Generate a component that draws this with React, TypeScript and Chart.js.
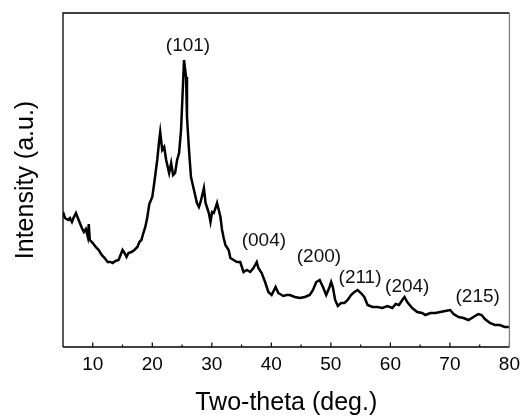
import { useEffect, useRef } from "react";
import { Chart, registerables } from "chart.js";

Chart.register(...registerables);

// Two-theta (deg.) positions
const twoTheta = [
  5.0, 5.33, 5.83, 6.17, 6.5, 6.83, 7.17, 7.5, 7.83, 8.17, 8.5, 8.83, 9.17, 9.33, 9.5,
  10.0, 10.5, 11.0, 11.5, 12.0, 12.5, 13.0, 13.33, 13.83, 14.33, 14.67, 15.0, 15.33,
  15.67, 16.0, 16.5, 17.0, 17.5, 17.83, 18.17, 18.5, 18.83, 19.17, 19.5, 20.0, 20.33,
  20.83, 21.17, 21.33, 21.67, 22.0, 22.33, 22.83, 23.17, 23.5, 23.83, 24.17, 24.5,
  24.83, 25.17, 25.33, 25.67, 25.83, 26.17, 26.5, 27.0, 27.5,
  27.83, 28.12, 28.67, 28.95, 29.17, 29.5, 29.78, 30.05, 30.33, 30.62, 30.88, 31.17,
  31.45, 31.72, 32.0, 32.28, 32.83, 33.12, 33.67, 34.22, 34.78, 35.05, 35.33, 35.88,
  36.45, 37.0, 37.55, 37.83, 38.38, 38.95, 39.5, 40.05, 40.72, 41.17, 42.0, 42.55,
  43.12, 43.95, 44.78, 45.62, 46.45, 47.0, 47.55, 48.12, 48.67, 49.22, 49.78, 50.05,
  50.33, 50.72, 51.17, 51.72, 52.28, 52.83, 53.38, 53.95, 54.5, 55.05, 55.62, 56.17,
  57.0, 57.83, 58.67, 59.5, 60.33, 60.88, 61.45, 62.0, 62.38, 62.83, 63.67, 64.5,
  65.33, 65.88, 66.72, 67.55, 68.38, 69.22, 70.05, 70.62, 71.45, 72.28, 73.12, 73.95,
  74.78, 75.33, 75.88, 76.72, 77.55, 78.38, 79.22, 80.0,
];

// Intensity (a.u.)
const intensity = [
  135, 129, 127, 129, 125, 130, 134, 129, 124, 119, 115, 118, 110, 123, 107,
  104, 100, 97, 92, 89, 85, 85, 84, 86, 87, 92, 97, 94,
  90, 94, 95, 97, 100, 105, 107, 114, 120, 130, 143, 150, 164,
  187, 207, 215, 197, 200, 187, 174, 184, 172, 174, 187, 194,
  217, 264, 287, 270, 230, 197, 170, 157, 144,
  140, 145, 159, 144, 140, 134, 125, 135, 134, 139, 144, 137,
  130, 117, 109, 102, 97, 89, 87, 85, 85, 80, 75, 77,
  75, 79, 85, 79, 74, 65, 55, 52, 60, 54, 51, 52,
  52, 50, 49, 50, 52, 57, 65, 67, 60, 52, 60, 65,
  60, 47, 41, 44, 44, 47, 52, 55, 57, 54, 50, 42,
  40, 40, 39, 41, 39, 43, 42, 47, 50, 45, 39, 35,
  34, 32, 34, 34, 35, 36, 37, 33, 30, 29, 27, 30,
  33, 32, 28, 24, 22, 22, 20, 20,
];

const majorTicks = [10, 20, 30, 40, 50, 60, 70, 80];
const minorTicks = [15, 25, 35, 45, 55, 65, 75];

const peakLabels = ["(101)", "(004)", "(200)", "(211)", "(204)", "(215)"];
const peakLabelX = [26.0, 38.75, 48.0, 54.9, 62.83, 74.67];
const peakLabelY = [301, 106, 90, 69, 60, 50];

const FONT = '"Liberation Sans", Arial, sans-serif';

const framePlugin = {
  id: "framePlugin",
  afterDraw(chart: any) {
    const { ctx, chartArea, scales } = chart;
    const { left, right, top, bottom } = chartArea;
    const x = scales.x;
    const y = scales.y;
    ctx.save();
    ctx.strokeStyle = "#000";
    ctx.lineWidth = 1.2;
    majorTicks.forEach((v) => {
      const px = x.getPixelForValue(v);
      ctx.beginPath();
      ctx.moveTo(px, bottom);
      ctx.lineTo(px, bottom - 4.5);
      ctx.stroke();
    });
    minorTicks.forEach((v) => {
      const px = x.getPixelForValue(v);
      ctx.beginPath();
      ctx.moveTo(px, bottom);
      ctx.lineTo(px, bottom - 2.5);
      ctx.stroke();
    });
    // frame
    ctx.lineWidth = 1.3;
    ctx.strokeStyle = "#000";
    ctx.beginPath();
    ctx.moveTo(left, bottom);
    ctx.lineTo(left, top);
    ctx.lineTo(right, top);
    ctx.stroke();
    ctx.lineWidth = 1.5;
    ctx.beginPath();
    ctx.moveTo(left, bottom);
    ctx.lineTo(right, bottom);
    ctx.stroke();
    ctx.strokeStyle = "#808080";
    ctx.lineWidth = 1.3;
    ctx.beginPath();
    ctx.moveTo(right, top);
    ctx.lineTo(right, bottom);
    ctx.stroke();
    // peak labels
    ctx.fillStyle = "#111";
    ctx.font = `19px ${FONT}`;
    ctx.textAlign = "center";
    ctx.textBaseline = "middle";
    peakLabels.forEach((t, i) => {
      ctx.fillText(t, x.getPixelForValue(peakLabelX[i]), y.getPixelForValue(peakLabelY[i]));
    });
    ctx.restore();
  },
};

export default function App() {
  const ref = useRef<HTMLCanvasElement>(null);
  useEffect(() => {
    document.body.style.margin = "0";
    if (!ref.current) return;
    const chart = new Chart(ref.current, {
      type: "line",
      data: {
        datasets: [
          {
            data: twoTheta.map((t, i) => ({ x: t, y: intensity[i] })),
            borderColor: "#000",
            borderWidth: 2.5,
            pointRadius: 0,
            tension: 0,
            fill: false,
          },
        ],
      },
      options: {
        animation: false,
        responsive: false,
        maintainAspectRatio: false,
        layout: { padding: { top: 13, right: 13, left: 0, bottom: 0 } },
        plugins: { legend: { display: false }, tooltip: { enabled: false } },
        scales: {
          x: {
            type: "linear",
            min: 5,
            max: 80,
            afterBuildTicks: (scale: any) => {
              scale.ticks = majorTicks.map((v) => ({ value: v }));
            },
            afterFit: (scale: any) => {
              scale.height = 72;
            },
            grid: { display: false, drawTicks: false },
            border: { display: false },
            ticks: {
              color: "#000",
              font: { family: FONT, size: 19 },
              padding: 6,
              maxRotation: 0,
              autoSkip: false,
              callback: (v: any) => String(v),
            },
            title: {
              display: true,
              text: "Two-theta (deg.)",
              color: "#000",
              font: { family: FONT, size: 25 },
              padding: { top: 0, bottom: 1 },
            },
          },
          y: {
            type: "linear",
            min: 0,
            max: 334,
            afterFit: (scale: any) => {
              scale.width = 63;
            },
            grid: { display: false, drawTicks: false },
            border: { display: false },
            ticks: { display: false },
            title: {
              display: true,
              text: "Intensity (a.u.)",
              color: "#000",
              font: { family: FONT, size: 25 },
              padding: { top: 11, bottom: 0 },
            },
          },
        },
      },
      plugins: [framePlugin],
    });
    return () => chart.destroy();
  }, []);
  return (
    <div style={{ position: "absolute", left: 0, top: 0, width: 526, height: 419 }}>
      <canvas ref={ref} width={526} height={419} />
    </div>
  );
}
